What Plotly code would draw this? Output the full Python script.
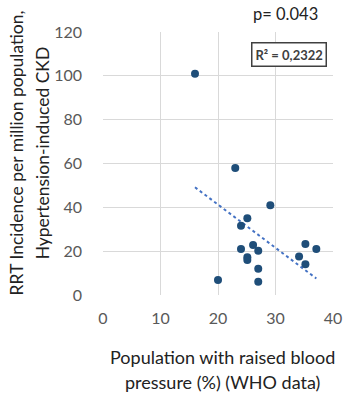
import numpy as np
import plotly.graph_objects as go

# Data
bp_pct = [16, 23, 29.1, 25.1, 24, 24, 26.1, 27, 25.1, 25.1, 27, 27, 20, 35.2, 37.1, 34.1, 35.2]
rrt_inc = [101, 58, 41, 35, 31.6, 21, 22.8, 20.2, 17.2, 16, 12, 6, 6.8, 23.3, 21, 17.6, 14]
x_ticks = [0, 10, 20, 30, 40]
y_ticks = [0, 20, 40, 60, 80, 100, 120]
y_title_lines = ["RRT Incidence per million population,", "Hypertension-induced CKD"]
x_title_lines = ["Population with raised blood", "pressure (%) (WHO data)"]
r2_label = "R² = 0,2322"
p_label = "p= 0.043"

x = np.array(bp_pct)
y = np.array(rrt_inc)
slope, intercept = np.polyfit(x, y, 1)
tx = np.array([x.min(), x.max()])
ty = slope * tx + intercept

FONT = "Lato"
L, R, T, B = 103, 342, 32, 295
PW, PH = R - L, B - T


def px(xp):
    return (xp - L) / PW


def py(yp):
    return (B - yp) / PH


fig = go.Figure()
fig.add_trace(go.Scatter(x=tx, y=ty, mode="lines",
                         line=dict(color="#4472C4", width=2, dash="dot"),
                         hoverinfo="skip", showlegend=False))
fig.add_trace(go.Scatter(x=bp_pct, y=rrt_inc, mode="markers",
                         marker=dict(color="#1F4E79", size=8),
                         showlegend=False))

annotations = []
for xc, line in zip([13, 40], y_title_lines):
    annotations.append(dict(text=line, xref="paper", yref="paper", x=px(xc), y=py(153),
                            xanchor="center", yanchor="middle", textangle=-90,
                            showarrow=False, font=dict(family=FONT, size=17.5, color="#222222")))
for yc, line in zip([357, 382], x_title_lines):
    annotations.append(dict(text=line, xref="paper", yref="paper", x=px(227), y=py(yc),
                            xanchor="center", yanchor="middle", showarrow=False,
                            font=dict(family=FONT, size=18, color="#222222")))
annotations.append(dict(text=p_label, xref="paper", yref="paper", x=px(293), y=py(14),
                        xanchor="center", yanchor="middle", showarrow=False,
                        font=dict(family=FONT, size=16.5, color="#222222")))
annotations.append(dict(text="<b>" + r2_label + "</b>", xref="paper", yref="paper",
                        x=px(296), y=py(54), xanchor="center", yanchor="middle",
                        showarrow=False, bordercolor="#404040", borderwidth=1.5, borderpad=3,
                        bgcolor="white", font=dict(family=FONT, size=13, color="#404040")))

fig.update_layout(
    width=353, height=395,
    margin=dict(l=L, r=353 - R, t=T, b=395 - B),
    plot_bgcolor="white", paper_bgcolor="white",
    font=dict(family=FONT, color="#595959", size=16),
    xaxis=dict(range=[0, 40], tickvals=x_ticks, showgrid=True, gridcolor="#D9D9D9",
               gridwidth=1, zeroline=False, showline=False, ticks="",
               ticklabelstandoff=12, tickfont=dict(size=16, color="#595959")),
    yaxis=dict(range=[0, 120], tickvals=y_ticks, showgrid=True, gridcolor="#D9D9D9",
               gridwidth=1, zeroline=False, showline=False, ticks="",
               ticklabelstandoff=20, tickfont=dict(size=16, color="#595959")),
    annotations=annotations,
)
fig.write_html("out.html")
